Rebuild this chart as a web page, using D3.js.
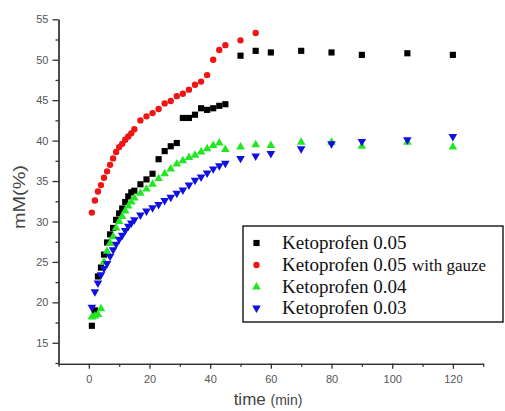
<!DOCTYPE html>
<html>
<head>
<meta charset="utf-8">
<script src="https://cdn.jsdelivr.net/npm/d3@7"></script>
<style>
  html, body { margin: 0; padding: 0; background: #fff; }
  svg { display: block; }
  .axis path, .axis line { stroke: #333; stroke-width: 1.3; }
  .axis text { fill: #555; font-family: "Liberation Sans", Arial, sans-serif; font-size: 11px; }
</style>
</head>
<body>
<div id="chart"></div>
<script>
// Release data (time in min, mM in %)
const timeEarly = [1, 2, 3, 4, 5, 6, 7, 8, 9, 10, 11, 12, 13, 14, 15];
const timeMid = [17, 19, 21, 23, 25, 27, 29, 31, 33, 35, 37, 39, 41, 43, 45];
const timeLate = [50, 55, 60, 70, 80, 90, 105, 120];

const keto05 = [17.1, 19.0, 23.2, 24.3, 25.9, 27.4, 28.4, 29.2, 30.2, 31.0, 31.6, 32.4, 33.1, 33.6, 33.8,
  34.6, 35.2, 35.9, 37.7, 38.7, 39.3, 39.7, 42.8, 42.8, 43.2, 44.0, 43.8, 44.0, 44.3, 44.5,
  50.5, 51.1, 50.9, 51.1, 50.9, 50.6, 50.8, 50.6];

const keto05Gauze = [31.1, 32.6, 33.7, 34.5, 35.4, 36.2, 37.0, 37.8, 38.6, 39.2, 39.6, 40.1, 40.5, 40.9, 41.4,
  42.5, 43.0, 43.4, 43.9, 44.6, 44.9, 45.5, 45.8, 46.3, 46.9, 47.3, 48.1, 50.0, 51.2, 51.8,
  52.4, 53.3];

const keto04 = [18.2, 18.3, 18.5, 19.2, 25.0, 26.3, 27.3, 28.1, 29.2, 30.0, 30.6, 31.3, 31.9, 32.4, 32.9,
  33.5, 34.0, 34.6, 35.3, 35.9, 36.5, 37.1, 37.5, 37.9, 38.2, 38.6, 39.0, 39.4, 39.7, 38.9,
  39.2, 39.5, 39.4, 39.8, 39.8, 39.3, 39.8, 39.2];

const keto03 = [19.4, 21.3, 22.4, 23.4, 24.2, 24.8, 25.7, 26.5, 27.2, 27.8, 28.3, 28.9, 29.4, 29.8, 30.2,
  30.8, 31.3, 31.7, 32.1, 32.6, 33.0, 33.5, 33.9, 34.5, 35.1, 35.5, 36.0, 36.5, 36.9, 37.2,
  37.8, 38.1, 38.4, 39.0, 39.6, 39.9, 40.1, 40.5];

const seriesNames = ["Ketoprofen 0.05", "Ketoprofen 0.05", "Ketoprofen 0.04", "Ketoprofen 0.03"];
const xTicks = [0, 20, 40, 60, 80, 100, 120];
const xMinor = [-10, 10, 30, 50, 70, 90, 110, 130];
const yTicks = [15, 20, 25, 30, 35, 40, 45, 50, 55];
const yMinor = [12.5, 17.5, 22.5, 27.5, 32.5, 37.5, 42.5, 47.5, 52.5];

const allTimes = [...timeEarly, ...timeMid, ...timeLate];

function pairs(values) {
  return values.map((v, i) => ({ t: allTimes[i], v }));
}

const series = [
  { name: seriesNames[0], data: pairs(keto05), color: "#000000", shape: d3.symbolSquare, size: 38, rot: 0 },
  { name: seriesNames[1], data: pairs(keto05Gauze), color: "#f01414", shape: d3.symbolCircle, size: 32, rot: 0 },
  { name: seriesNames[2], data: pairs(keto04), color: "#22e622", shape: d3.symbolTriangle, size: 32, rot: 0 },
  { name: seriesNames[3], data: pairs(keto03), color: "#1010e0", shape: d3.symbolTriangle, size: 32, rot: 180 },
];

const width = 505, height = 411;

const svg = d3.select("#chart").append("svg")
  .attr("width", width)
  .attr("height", height);

const x = d3.scaleLinear().domain([-10, 130]).range([58.5, 483.2]);
const y = d3.scaleLinear().domain([12.4, 55]).range([363.8, 19.3]);

// minor ticks first, then the major axes over them
svg.append("g").attr("class", "axis")
  .attr("transform", `translate(0,${y(12.4)})`)
  .call(d3.axisBottom(x).tickValues(xMinor).tickFormat("").tickSize(3).tickSizeOuter(0));
svg.append("g").attr("class", "axis")
  .attr("transform", `translate(0,${y(12.4)})`)
  .call(d3.axisBottom(x).tickValues(xTicks).tickSize(5).tickSizeOuter(0).tickPadding(6));

svg.append("g").attr("class", "axis")
  .attr("transform", `translate(${x(-10)},0)`)
  .call(d3.axisLeft(y).tickValues(yMinor).tickFormat("").tickSize(3).tickSizeOuter(0));
svg.append("g").attr("class", "axis")
  .attr("transform", `translate(${x(-10)},0)`)
  .call(d3.axisLeft(y).tickValues(yTicks).tickSize(6).tickSizeOuter(0).tickPadding(4));

// axis titles
svg.append("text")
  .attr("transform", `translate(25,197) rotate(-90)`)
  .attr("text-anchor", "middle")
  .attr("fill", "#444")
  .attr("textLength", 64)
  .attr("lengthAdjust", "spacingAndGlyphs")
  .style("font-family", "Liberation Sans, Arial, sans-serif")
  .style("font-size", "16px")
  .text("mM(%)");

const xt = svg.append("text")
  .attr("x", 268)
  .attr("y", 405)
  .attr("text-anchor", "middle")
  .attr("fill", "#444")
  .style("font-family", "Liberation Sans, Arial, sans-serif");
xt.append("tspan").style("font-size", "17px").text("time ");
xt.append("tspan").style("font-size", "14px").text("(min)");

// points
series.forEach(s => {
  const sym = d3.symbol().type(s.shape).size(s.size);
  svg.append("g")
    .selectAll("path")
    .data(s.data)
    .join("path")
    .attr("d", sym)
    .attr("transform", d => `translate(${x(d.t)},${y(d.v)}) rotate(${s.rot})`)
    .attr("fill", s.color);
});

// legend
const lg = svg.append("g");
lg.append("rect")
  .attr("x", 243).attr("y", 226)
  .attr("width", 260).attr("height", 96)
  .attr("fill", "#fff")
  .attr("stroke", "#000")
  .attr("stroke-width", 1.3);

const rowY = [243, 265, 287, 308];
series.forEach((s, i) => {
  lg.append("path")
    .attr("d", d3.symbol().type(s.shape).size(s.size)())
    .attr("transform", `translate(256.5,${rowY[i]}) rotate(${s.rot})`)
    .attr("fill", s.color);
  lg.append("text")
    .attr("x", 282)
    .attr("y", rowY[i] + 6)
    .attr("fill", "#111")
    .style("font-family", "Liberation Serif, Times New Roman, serif")
    .style("font-size", "19px")
    .text(s.name);
  if (i === 1) {
    lg.append("text")
      .attr("x", 412)
      .attr("y", rowY[i] + 6)
      .attr("fill", "#111")
      .style("font-family", "Liberation Serif, Times New Roman, serif")
      .style("font-size", "17px")
      .text("with gauze");
  }
});
</script>
</body>
</html>
